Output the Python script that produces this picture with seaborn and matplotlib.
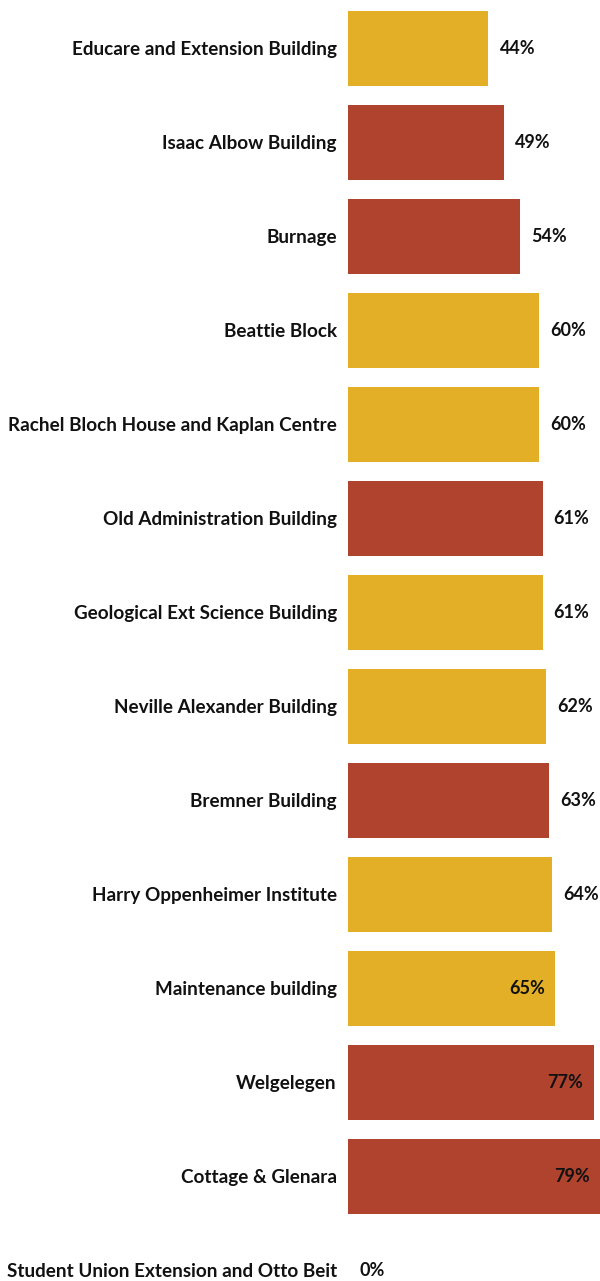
import matplotlib
matplotlib.use("Agg")
import matplotlib.pyplot as plt
import seaborn as sns
import pandas as pd

buildings = [
    "Educare and Extension Building",
    "Isaac Albow Building",
    "Burnage",
    "Beattie Block",
    "Rachel Bloch House and Kaplan Centre",
    "Old Administration Building",
    "Geological Ext Science Building",
    "Neville Alexander Building",
    "Bremner Building",
    "Harry Oppenheimer Institute",
    "Maintenance building",
    "Welgelegen",
    "Cottage & Glenara",
    "Student Union Extension and Otto Beit",
]
shares = [44, 49, 54, 60, 60, 61, 61, 62, 63, 64, 65, 77, 79, 0]
groups = ["gold", "red", "red", "gold", "gold", "red", "gold", "gold",
          "red", "gold", "gold", "red", "red", "gold"]

palette = {"gold": "#E3AF27", "red": "#B0432D"}

df = pd.DataFrame({"building": buildings, "share": shares, "group": groups})

sns.set_theme(style="white")
plt.rcParams["font.family"] = ["Lato", "DejaVu Sans"]

fig = plt.figure(figsize=(6.0, 12.81), dpi=100)
ax = fig.add_axes([0.58, 0.0, 0.42, 1.0])

sns.barplot(data=df, x="share", y="building", hue="group", palette=palette,
            dodge=False, width=0.8, legend=False, ax=ax, orient="h",
            saturation=1, edgecolor="none", linewidth=0)

ax.set_xlim(0, 79)
ax.set_ylim(-0.5 + 1281 / 94 - 0.015, -0.515)

for i, v in enumerate(shares):
    if v >= 65:
        ax.annotate(f"{v}%", xy=(v, i), xytext=(-7.5, 0), textcoords="offset points",
                    ha="right", va="center", fontsize=13, fontweight="bold",
                    color="#111111")
    else:
        ax.annotate(f"{v}%", xy=(v, i), xytext=(8, 0), textcoords="offset points",
                    ha="left", va="center", fontsize=13, fontweight="bold",
                    color="#111111", annotation_clip=False)

ax.set_xlabel("")
ax.set_ylabel("")
ax.set_xticks([])
ax.tick_params(axis="y", length=0, pad=8)
for lab in ax.get_yticklabels():
    lab.set_fontweight("bold")
    lab.set_fontsize(13.6)
    lab.set_color("#111111")
for s in ax.spines.values():
    s.set_visible(False)

fig.savefig("out.png", dpi=100)
